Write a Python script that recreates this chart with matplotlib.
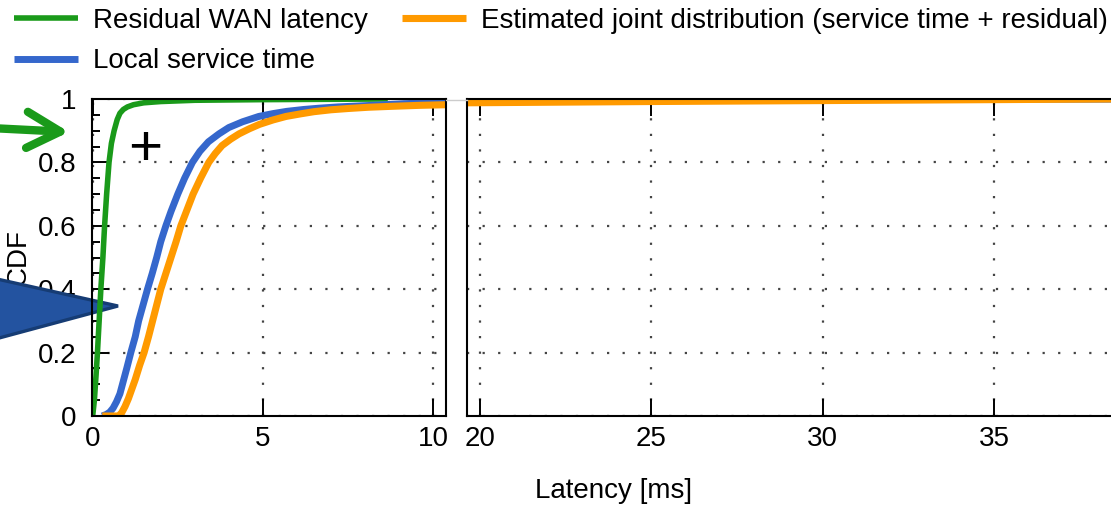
import matplotlib
matplotlib.use("Agg")
import matplotlib.pyplot as plt
from matplotlib.lines import Line2D
from matplotlib.patches import FancyArrowPatch, Polygon

plt.rcParams["font.family"] = ["Liberation Sans", "DejaVu Sans"]
plt.rcParams["font.size"] = 20

GREEN = "#1a9a1a"
BLUE = "#3567cc"
ORANGE = "#ff9a00"
GRID = "#444444"

# CDF curves (latency in ms, cumulative fraction)
wan_x = [0.0, 0.05, 0.1, 0.14, 0.19, 0.24, 0.3, 0.35, 0.41, 0.48, 0.55, 0.63,
         0.72, 0.8, 0.9, 1.02, 1.2, 1.5, 2.0, 3.0, 5.0, 8.67]
wan_y = [0.0, 0.05, 0.13, 0.2, 0.3, 0.4, 0.5, 0.6, 0.7, 0.8, 0.86, 0.9,
         0.935, 0.955, 0.967, 0.975, 0.982, 0.988, 0.992, 0.996, 0.998, 1.0]

svc_x = [0.28, 0.4, 0.5, 0.6, 0.7, 0.8, 0.9, 1.0, 1.12, 1.25, 1.35, 1.48,
         1.61, 1.75, 1.88, 2.0, 2.15, 2.3, 2.5, 2.7, 2.93, 3.15, 3.4, 3.71,
         4.0, 4.4, 4.88, 5.3, 5.7, 6.2, 6.65, 7.2, 7.8, 8.4, 9.1, 9.8, 10.4,
         19.6, 25, 30, 45]
svc_y = [0.0, 0.005, 0.012, 0.025, 0.045, 0.07, 0.11, 0.15, 0.2, 0.25, 0.3,
         0.35, 0.4, 0.45, 0.5, 0.55, 0.6, 0.645, 0.7, 0.75, 0.8, 0.835, 0.865,
         0.89, 0.91, 0.928, 0.945, 0.954, 0.961, 0.967, 0.971, 0.975, 0.978,
         0.981, 0.985, 0.988, 0.99, 0.997, 0.998, 0.999, 1.0]

joint_x = [0.28, 0.76, 0.85, 0.95, 1.05, 1.15, 1.25, 1.38, 1.51, 1.64, 1.76,
           1.88, 2.0, 2.15, 2.3, 2.45, 2.59, 2.77, 2.95, 3.17, 3.41, 3.6, 3.8,
           4.05, 4.3, 4.6, 4.9, 5.3, 5.68, 6.1, 6.5, 7.0, 7.5, 8.1, 8.8, 9.6,
           10.4, 19.6, 25, 30, 35, 38.5, 45]
joint_y = [0.0, 0.0, 0.01, 0.03, 0.055, 0.085, 0.115, 0.16, 0.2, 0.25, 0.3,
           0.35, 0.4, 0.45, 0.5, 0.55, 0.6, 0.65, 0.7, 0.75, 0.8, 0.828, 0.853,
           0.873, 0.89, 0.906, 0.92, 0.934, 0.945, 0.953, 0.96, 0.966, 0.97,
           0.974, 0.977, 0.98, 0.982, 0.988, 0.992, 0.995, 0.998, 1.0, 1.0]

LEFT_XTICKS = [0, 5, 10]
RIGHT_XTICKS = [20, 25, 30, 35]
YTICKS = [0, 0.2, 0.4, 0.6, 0.8, 1.0]
YTICK_LABELS = ["0", "0.2", "0.4", "0.6", "0.8", "1"]
YMINOR = [i * 0.05 for i in range(21)]

W, H = 1111, 505
fig = plt.figure(figsize=(W / 100, H / 100), dpi=100)


def px(x0, y0, x1, y1):
    # axes rectangle from image pixel corners (top-left origin)
    return [x0 / W, 1 - y1 / H, (x1 - x0) / W, (y1 - y0) / H]


ax_l = fig.add_axes(px(92, 99, 446, 416))
ax_r = fig.add_axes(px(467, 99, 1333, 416))

series = [
    (wan_x, wan_y, GREEN, 4.0, "Residual WAN latency"),
    (svc_x, svc_y, BLUE, 5.0, "Local service time"),
    (joint_x, joint_y, ORANGE, 5.1,
     "Estimated joint distribution (service time + residual)"),
]

for ax in (ax_l, ax_r):
    for xs, ys, c, lw, lab in series:
        ax.plot(xs, ys, color=c, lw=lw, label=lab, solid_joinstyle="round",
                solid_capstyle="butt")
    ax.set_ylim(0, 1)
    ax.grid(True, which="major", color=GRID, linestyle=(0, (1, 6)), lw=1.6)
    for s in ax.spines.values():
        s.set_linewidth(1.5)
    ax.tick_params(axis="x", which="major", direction="in", top=True,
                   length=12, width=1.4, pad=7)

ax_l.set_xlim(-0.02, 10.38)
ax_l.set_xticks(LEFT_XTICKS)
ax_l.set_yticks(YTICKS)
ax_l.set_yticklabels(YTICK_LABELS, va="top")
ax_l.set_yticks(YMINOR, minor=True)
ax_l.tick_params(axis="y", which="major", direction="in", length=12,
                 width=1.4, pad=11)
ax_l.tick_params(axis="y", which="minor", direction="in", length=6, width=1.4)
for lbl in ax_l.get_yticklabels():
    lbl.set_verticalalignment("center_baseline")
ax_l.set_ylabel("CDF")
ax_l.yaxis.set_label_coords(-0.17, 0.5)

ax_r.set_xlim(19.63, 44.88)
ax_r.set_xticks(RIGHT_XTICKS)
ax_r.set_yticks(YTICKS)
ax_r.tick_params(axis="y", length=0, labelleft=False)

# thin connector between the two panels' top edges
fig.add_artist(Line2D([446 / W, 467 / W], [1 - 99.5 / H, 1 - 99.5 / H],
                      color="#cccccc", lw=1))

fig.text(614 / W, 1 - 491 / H, "Latency [ms]", ha="center", va="center")

handles, labels = ax_l.get_legend_handles_labels()
fig.legend(handles, labels, ncol=2, loc="upper left",
           bbox_to_anchor=(14 / W, 1 - 8 / H), frameon=False,
           handlelength=2.3, handletextpad=0.55, columnspacing=1.22,
           labelspacing=0.52, borderpad=0, borderaxespad=0)

# annotation shapes
ax_l.text(0.15, 0.84, "+", transform=ax_l.transAxes, fontsize=42,
          ha="center", va="center")

tri = Polygon([(-12 / W, 1 - 277 / H), (118 / W, 1 - 306 / H),
               (-12 / W, 1 - 341 / H)], closed=True, transform=fig.transFigure,
              facecolor="#2353a0", edgecolor="#163c74", lw=2.4,
              clip_on=False, zorder=1.8)
ax_l.add_patch(tri)

arrow = FancyArrowPatch((-10 / W, 1 - 128 / H), (69 / W, 1 - 132 / H),
                        transform=fig.transFigure,
                        arrowstyle="->,head_length=24,head_width=13",
                        mutation_scale=1, color=GREEN, lw=6.0,
                        capstyle="round", joinstyle="round",
                        shrinkA=0, shrinkB=0)
fig.add_artist(arrow)

fig.savefig("out.png", dpi=100)
